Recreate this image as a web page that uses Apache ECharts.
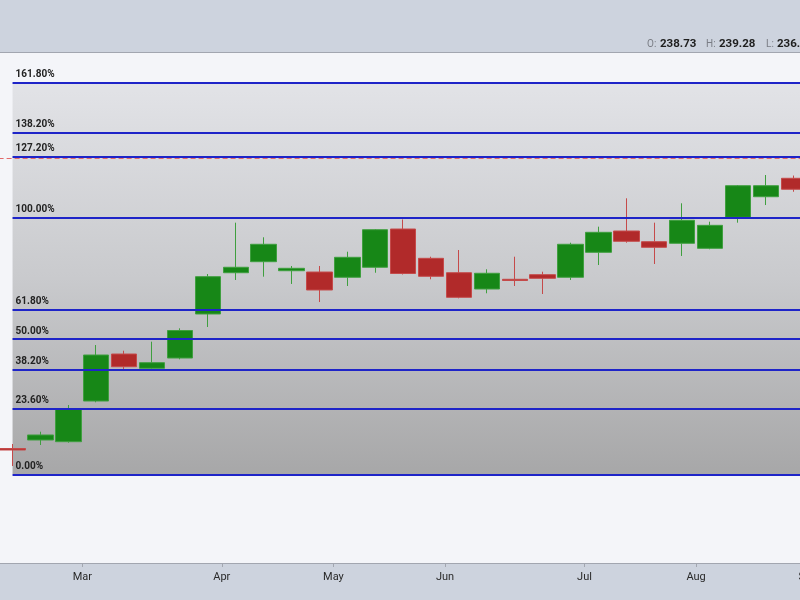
<!DOCTYPE html>
<html><head><meta charset="utf-8">
<script src="https://cdn.jsdelivr.net/npm/echarts@6/dist/echarts.min.js"></script>
<style>html,body{margin:0;padding:0;background:#f4f5f9}#c{width:800px;height:600px}</style>
</head><body><div id="c"></div>
<script>
// weekly bars (Monday dates)
const weeks = ['2014-02-10','2014-02-17','2014-02-24','2014-03-03','2014-03-10','2014-03-17','2014-03-24','2014-03-31',
  '2014-04-07','2014-04-14','2014-04-21','2014-04-28','2014-05-05','2014-05-12','2014-05-19','2014-05-26',
  '2014-06-02','2014-06-09','2014-06-16','2014-06-23','2014-06-30','2014-07-07','2014-07-14','2014-07-21','2014-07-28',
  '2014-08-04','2014-08-11','2014-08-18','2014-08-25','2014-09-01'];
const monthNames = ['Jan','Feb','Mar','Apr','May','Jun','Jul','Aug','Sep','Oct','Nov','Dec'];
const opens  = [190.34,191.70,191.43,198.07,206.03,203.58,205.34,213.06,220.56,222.61,220.93,220.69,219.72,221.57,228.79,223.24,220.56,217.57,219.35,220.20,219.72,224.37,228.41,226.37,226.07,225.12,231.05,235.07,238.73];
const closes = [190.10,192.51,196.75,205.86,203.85,204.54,210.13,219.83,221.57,225.88,221.38,217.39,223.43,228.66,220.42,219.90,216.06,220.46,219.13,219.53,225.88,228.16,226.45,225.31,230.47,229.50,237.25,237.25,236.55];
const lows   = [187.57,190.90,191.27,197.86,203.41,203.12,205.12,210.75,219.22,219.83,218.49,215.21,218.12,220.56,220.23,219.35,215.88,216.79,218.12,216.66,219.22,221.99,226.18,222.18,223.68,224.94,230.01,233.44,236.05];
const highs  = [191.06,193.04,197.41,207.59,206.60,208.17,210.52,220.32,230.01,227.21,221.81,221.81,224.48,228.79,230.63,223.54,224.80,221.20,223.54,220.75,226.18,229.24,234.76,230.01,233.78,230.20,237.39,239.39,239.28];
const fibLow = 186.27;   // 0% anchor
const fibHigh = 230.97;  // 100% anchor
const fibRatios = [0, 0.236, 0.382, 0.5, 0.618, 1, 1.272, 1.382, 1.618];
const priceLine = 242.77;

const BW = 27.9;
const candleData = weeks.map((w, i) => i < opens.length ? [opens[i], closes[i], lows[i], highs[i]] : '-');
const monthOf = i => +weeks[i].slice(5, 7);
const isMonthStart = i => i > 0 && monthOf(i) !== monthOf(i - 1);
const fibPrice = r => fibLow + r * (fibHigh - fibLow);
const last = opens.length - 1;

const chart = echarts.init(document.getElementById('c'));
const fibLines = fibRatios.map(r => [
  {name: (r * 100).toFixed(2) + '%', xAxis: weeks[0], yAxis: fibPrice(r)},
  {xAxis: weeks[weeks.length - 1], yAxis: fibPrice(r)}
]);
chart.setOption({
  backgroundColor: '#f4f5f9',
  animation: false,
  grid: {left: -1.4, top: 53, width: BW * weeks.length, height: 510, containLabel: false, outerBoundsMode: 'none'},
  xAxis: {
    type: 'category', data: weeks, boundaryGap: true,
    axisLine: {show: true, lineStyle: {color: '#a2a6b0', width: 1}},
    axisTick: {show: true, interval: i => isMonthStart(i), length: 4, lineStyle: {color: '#a2a6b0'}},
    axisLabel: {interval: i => isMonthStart(i), formatter: v => monthNames[+v.slice(5, 7) - 1],
      padding: [0, BW, 0, 0], color: '#2a2a2a', fontSize: 11, fontFamily: 'Roboto', margin: 9, hideOverlap: false},
    splitLine: {show: false}
  },
  yAxis: {type: 'log', min: 172.92, max: 265.17, show: false, splitLine: {show: false}},
  graphic: [
    {type: 'rect', z: -10, shape: {x: 0, y: 0, width: 800, height: 52}, style: {fill: '#cdd3de'}},
    {type: 'line', shape: {x1: 0, y1: 52.5, x2: 800, y2: 52.5}, style: {stroke: '#a2a6b0', lineWidth: 1}},
    {type: 'rect', z: -10, shape: {x: 0, y: 563, width: 800, height: 37}, style: {fill: '#cdd3de'}},
    {type: 'text', x: 647, y: 44, style: {text: 'O:', fill: '#7a7d85', font: '10px Roboto', verticalAlign: 'middle'}},
    {type: 'text', x: 660, y: 44, style: {text: opens[last].toFixed(2), fill: '#1e1e1e', font: 'bold 11.5px Roboto', verticalAlign: 'middle'}},
    {type: 'text', x: 706, y: 44, style: {text: 'H:', fill: '#7a7d85', font: '10px Roboto', verticalAlign: 'middle'}},
    {type: 'text', x: 719, y: 44, style: {text: highs[last].toFixed(2), fill: '#1e1e1e', font: 'bold 11.5px Roboto', verticalAlign: 'middle'}},
    {type: 'text', x: 766, y: 44, style: {text: 'L:', fill: '#7a7d85', font: '10px Roboto', verticalAlign: 'middle'}},
    {type: 'text', x: 777, y: 44, style: {text: lows[last].toFixed(2), fill: '#1e1e1e', font: 'bold 11.5px Roboto', verticalAlign: 'middle'}}
  ],
  series: [{
    type: 'candlestick', data: candleData, barWidth: '93%',
    itemStyle: {color: '#178717', color0: '#b12a2a', borderColor: '#3f9f3f', borderColor0: '#c54a4a', borderWidth: 1},
    markArea: {
      silent: true,
      data: [[
        {xAxis: weeks[0], yAxis: fibPrice(0), itemStyle: {color: new echarts.graphic.LinearGradient(0, 0, 0, 1, [
          {offset: 0, color: '#e2e3e7'}, {offset: 0.5, color: '#c9cacd'}, {offset: 1, color: '#a7a7a8'}])}},
        {xAxis: weeks[weeks.length - 1], yAxis: fibPrice(1.618)}
      ]]
    },
    markLine: {
      silent: true, symbol: 'none',
      lineStyle: {color: '#1e24c8', width: 2, type: 'solid'},
      label: {show: true, position: 'insideStartTop', formatter: '{b}', color: '#222', fontSize: 10,
        fontWeight: 'bold', fontFamily: 'Roboto', distance: 3},
      data: fibLines.concat([{name: '', yAxis: priceLine, label: {show: false},
        lineStyle: {color: '#e36a6a', width: 1, type: [5, 3]}}])
    }
  }]
});
</script></body></html>
